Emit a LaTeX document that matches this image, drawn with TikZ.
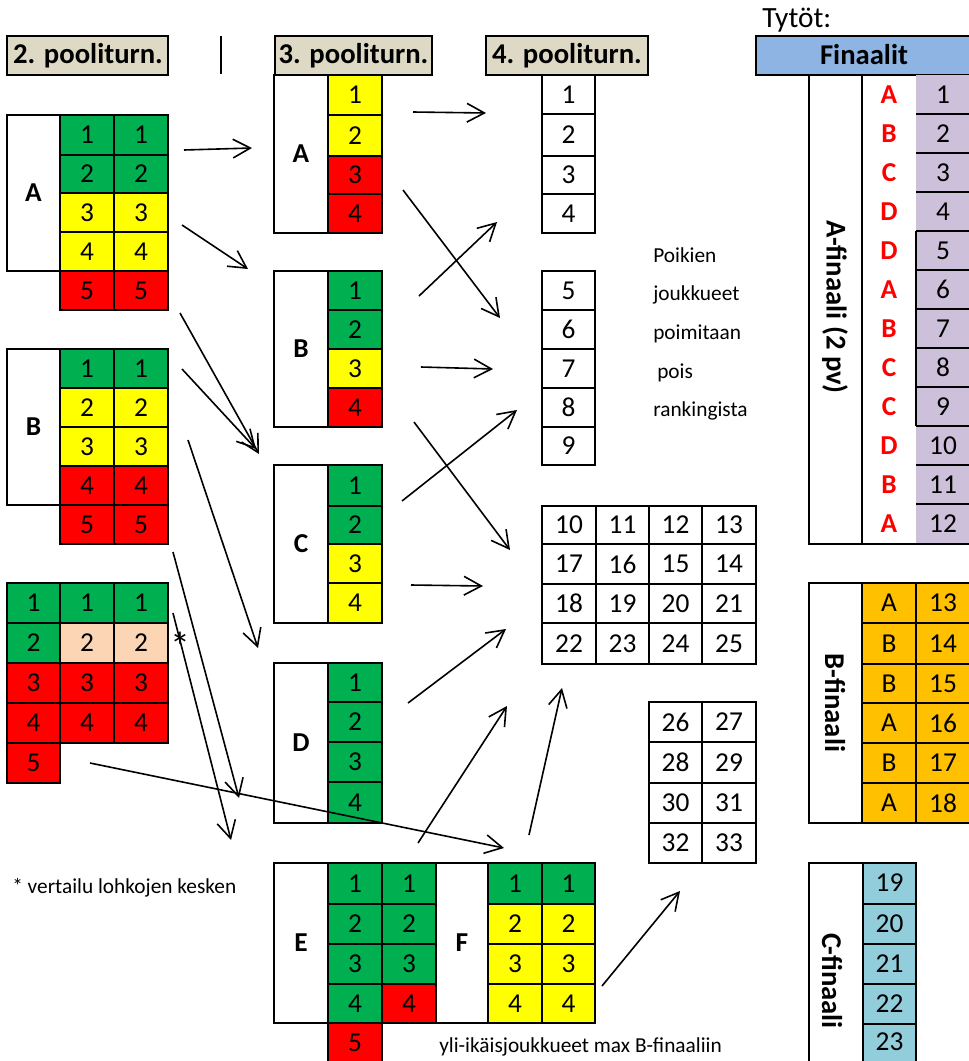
\documentclass[tikz,border=0pt]{standalone}
\usepackage{fontspec}
\setmainfont{Carlito}
\usetikzlibrary{arrows.meta}
\definecolor{hdr}{HTML}{DDD9C4}
\definecolor{grn}{HTML}{00B050}
\definecolor{yel}{HTML}{FFFF00}
\definecolor{rd}{HTML}{FF0000}
\definecolor{pch}{HTML}{FCD5B4}
\definecolor{fblue}{HTML}{8DB4E2}
\definecolor{lav}{HTML}{CCC0DA}
\definecolor{org}{HTML}{FFC000}
\definecolor{lblue}{HTML}{92CDDC}
% name, x1, y1, x2, y2, fill, text
\newcommand\cbox[7]{\draw[cellline,fill=#6] (#2,#3) rectangle (#4,#5) node[pos=.5,num](#1){#7};}
\newcommand\lbox[6]{\draw[cellline,fill=white] (#2,#3) rectangle (#4,#5) node[pos=.5,lbl](#1){#6};}
\begin{document}
\begin{tikzpicture}[x=0.75pt,y=-0.75pt,
  cellline/.style={line width=1.8pt},
  num/.style={font=\fontsize{20.5}{24}\selectfont,inner sep=0pt},
  lbl/.style={font=\bfseries\fontsize{20.5}{24}\selectfont,inner sep=0pt},
  hdrbox/.style={line width=2.2pt,fill=hdr},
  hdrtxt/.style={font=\bfseries\fontsize{21.5}{26}\selectfont,anchor=base,inner sep=0pt},
  rottxt/.style={font=\bfseries\fontsize{21.5}{26}\selectfont,rotate=-90,inner sep=0pt},
  redl/.style={font=\bfseries\fontsize{20.5}{24}\selectfont,text=rd,inner sep=0pt},
  note/.style={font=\fontsize{16}{18}\selectfont,anchor=base west,inner sep=0pt},
  arr/.style={line width=1.2pt,-{Straight Barb[length=13pt,width=14pt]}}]
\useasboundingbox (0,0) rectangle (969,1061);
\fill[white] (0,0) rectangle (969,1061);

% ---------- headers ----------
\draw[hdrbox] (7,36) rectangle (168,75);
\node[hdrtxt] (h2) at (88,63) {2. pooliturn.};
\draw[line width=1.8pt] (221,36) -- (221,74);
\draw[hdrbox] (275,36) rectangle (432,75);
\node[hdrtxt] (h3) at (353.5,63) {3. pooliturn.};
\draw[hdrbox] (486,36) rectangle (648,75);
\node[hdrtxt] (h4) at (567,63) {4. pooliturn.};
\node[font=\fontsize{22}{26}\selectfont,anchor=base west,inner sep=0pt] (tytot) at (762,27) {Tytöt:};
\draw[line width=2.2pt,fill=fblue] (756,36) rectangle (980,75);
\node[hdrtxt] (fin) at (864,64) {Finaalit};

% ---------- 2. pooliturn A ----------
\lbox{pA}{7}{115}{60}{271}{A}
\foreach \i/\ya/\yb/\c in {1/115/155/grn,2/155/193/grn,3/193/232/yel,4/232/271/yel,5/271/310/rd}{
  \cbox{pAa\i}{60}{\ya}{114}{\yb}{\c}{\i}
  \cbox{pAb\i}{114}{\ya}{168}{\yb}{\c}{\i}
}
% ---------- 2. pooliturn B ----------
\lbox{pB}{7}{349}{60}{505}{B}
\foreach \i/\ya/\yb/\c in {1/349/388/grn,2/388/427/yel,3/427/466/yel,4/466/505/rd,5/505/544/rd}{
  \cbox{pBa\i}{60}{\ya}{114}{\yb}{\c}{\i}
  \cbox{pBb\i}{114}{\ya}{168}{\yb}{\c}{\i}
}
% ---------- 2. pooliturn third ----------
\foreach \i/\ya/\yb/\ca/\cb in {1/583/623/grn/grn,2/623/663/grn/pch,3/663/703/rd/rd,4/703/743/rd/rd}{
  \cbox{pCa\i}{7}{\ya}{60}{\yb}{\ca}{\i}
  \cbox{pCb\i}{60}{\ya}{114}{\yb}{\cb}{\i}
  \cbox{pCc\i}{114}{\ya}{168}{\yb}{\cb}{\i}
}
\cbox{pCa5}{7}{743}{60}{783}{rd}{5}
\node[font=\fontsize{30}{32}\selectfont,inner sep=0pt] (star) at (180,646) {*};

% ---------- 3. pooliturn ----------
\lbox{tA}{274}{75}{328}{233}{A}
\foreach \i/\ya/\yb/\c in {1/75/115/yel,2/115/156/yel,3/156/194/rd,4/194/233/rd}{
  \cbox{tA\i}{328}{\ya}{382}{\yb}{\c}{\i}}
\lbox{tB}{274}{271}{328}{427}{B}
\foreach \i/\ya/\yb/\c in {1/271/310/grn,2/310/349/grn,3/349/388/yel,4/388/427/rd}{
  \cbox{tB\i}{328}{\ya}{382}{\yb}{\c}{\i}}
\lbox{tC}{274}{465}{328}{623}{C}
\foreach \i/\ya/\yb/\c in {1/465/506/grn,2/506/544/grn,3/544/583/yel,4/583/623/yel}{
  \cbox{tC\i}{328}{\ya}{382}{\yb}{\c}{\i}}
\lbox{tD}{274}{663}{328}{823}{D}
\foreach \i/\ya/\yb/\c in {1/663/702/grn,2/702/742/grn,3/742/782/grn,4/782/823/grn}{
  \cbox{tD\i}{328}{\ya}{382}{\yb}{\c}{\i}}

% ---------- E / F ----------
\lbox{tE}{274}{863}{328}{1023}{E}
\lbox{tF}{436}{863}{488}{1023}{F}
\foreach \i/\ya/\yb/\ce/\cf in {1/863/904/grn/grn,2/904/944/grn/yel,3/944/984/grn/yel,4/984/1023/grn/yel}{
  \cbox{tEa\i}{328}{\ya}{382}{\yb}{grn}{\i}
  \cbox{tFa\i}{488}{\ya}{542}{\yb}{\cf}{\i}
  \cbox{tFb\i}{542}{\ya}{595}{\yb}{\cf}{\i}
}
\foreach \i/\ya/\yb/\c in {1/863/904/grn,2/904/944/grn,3/944/984/grn,4/984/1023/rd}{
  \cbox{tEb\i}{382}{\ya}{436}{\yb}{\c}{\i}}
\cbox{tEa5}{328}{1023}{382}{1070}{rd}{}
\node[num] (tE5) at (355,1043) {5};

% ---------- 4. pooliturn ----------
\foreach \i/\ya/\yb in {1/75/114,2/114/156,3/156/194,4/194/233,5/271/310,6/310/349,7/349/388,8/388/427,9/427/465}{
  \cbox{f\i}{542}{\ya}{595}{\yb}{white}{\i}}
\foreach \r/\ya/\yb/\a/\b/\c/\d in {1/506/544/10/11/12/13,2/544/584/17/16/15/14,3/584/623/18/19/20/21,4/623/664/22/23/24/25}{
  \cbox{g\a}{542}{\ya}{596}{\yb}{white}{\a}
  \cbox{g\b}{596}{\ya}{649}{\yb}{white}{\b}
  \cbox{g\c}{649}{\ya}{702}{\yb}{white}{\c}
  \cbox{g\d}{702}{\ya}{756}{\yb}{white}{\d}
}
\foreach \ya/\yb/\a/\b in {702/742/26/27,742/783/28/29,783/823/30/31,823/863/32/33}{
  \cbox{g\a}{649}{\ya}{702}{\yb}{white}{\a}
  \cbox{g\b}{702}{\ya}{756}{\yb}{white}{\b}
}

% ---------- side texts ----------
\node[note] (t1) at (653,262) {Poikien};
\node[note] (t2) at (653,300) {joukkueet};
\node[note] (t3) at (653,339) {poimitaan};
\node[note] (t4) at (657,378) {pois};
\node[note] (t5) at (653,416) {rankingista};
\node[note] (n1) at (12,893) {* vertailu lohkojen kesken};
\node[note] (n2) at (439,1052) {yli-ikäisjoukkueet max B-finaaliin};

% ---------- A-finaali ----------
\foreach \i/\ya/\yb/\L in {1/75/114/A,2/114/153/B,3/153/192/C,4/192/231/D,5/231/270/D,6/270/309/A,7/309/348/B,8/348/387/C,9/387/426/C,10/426/465/D,11/465/504/B,12/504/544/A}{
  \fill[lav] (916,\ya) rectangle (975,\yb);
  \node[num] (fa\i) at (943,{(\ya+\yb)/2}) {\i};
  \node[redl] (fl\i) at (889,{(\ya+\yb)/2}) {\L};
}
\foreach \y in {114,153,192,231,270,309,348,387,426,465,504}{
  \draw[cellline] (916,\y) -- (975,\y);}
\draw[cellline] (916,231) -- (916,426);
\draw[cellline] (809,75) -- (809,544) -- (975,544);
\draw[cellline] (862,75) -- (862,544);
\node[rottxt] (afin) at (835,307) {A-finaali (2 pv)};

% ---------- B-finaali ----------
\draw[cellline,fill=white] (809,583) rectangle (862,823);
\node[rottxt] (bfin) at (835,703) {B-finaali};
\foreach \i/\ya/\yb/\L in {13/583/623/A,14/623/664/B,15/664/703/B,16/703/743/A,17/743/783/B,18/783/823/A}{
  \cbox{bl\i}{862}{\ya}{916}{\yb}{org}{\L}
  \cbox{bn\i}{916}{\ya}{975}{\yb}{org}{}
  \node[num] (bnn\i) at (943,{(\ya+\yb)/2}) {\i};
}

% ---------- C-finaali ----------
\draw[cellline,fill=white] (809,863) rectangle (863,1070);
\node[rottxt] (cfin) at (832,981) {C-finaali};
\foreach \i/\ya/\yb in {19/863/904,20/904/944,21/944/984,22/984/1024,23/1024/1070}{
  \draw[cellline,fill=lblue] (863,\ya) rectangle (916,\yb);
}
\foreach \i/\y in {19/883,20/924,21/964,22/1004,23/1042}{
  \node[num] (cn\i) at (889.5,\y) {\i};}

% ---------- arrows ----------
\foreach \n/\xa/\ya/\xb/\yb in {
  1/184/150/252/148, 2/182/225/248/269, 3/180/313/259/454, 4/182/369/256/449,
  5/188/440/258/648, 6/173/552/239/798, 7/173/613/231/840, 8/90/763/504/848,
  9/413/112/486/113, 10/403/190/500/318, 11/419/296/497/222, 12/421/367/493/369,
  13/414/422/510/550, 14/402/501/517/410, 15/411/585/483/586, 16/408/703/506/629,
  17/418/843/507/706, 18/529/835/562/688, 19/602/986/680/891}{
  \coordinate (s\n) at (\xa,\ya);
  \coordinate (e\n) at (\xb,\yb);
  \draw[arr] (s\n) -- (e\n);
}
\end{tikzpicture}
\end{document}
